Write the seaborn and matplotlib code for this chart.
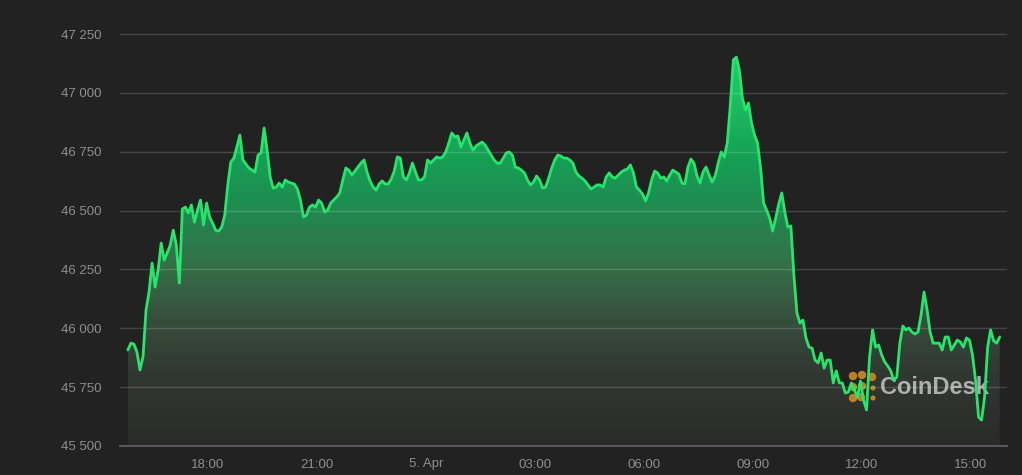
import numpy as np
import pandas as pd
import matplotlib
matplotlib.use("Agg")
import matplotlib.pyplot as plt
import matplotlib.dates as mdates
from matplotlib.colors import LinearSegmentedColormap
from matplotlib.patches import Ellipse
import seaborn as sns

# ---------------- data ----------------
start_time = "2022-04-04 15:48"
step = "5min"
prices = [
    45908, 45937, 45933, 45899, 45823, 45878, 46078, 46154, 46277, 46175,
    46248, 46362, 46290, 46320, 46354, 46417, 46354, 46192, 46507, 46515,
    46490, 46524, 46451, 46502, 46545, 46439, 46532, 46473, 46447, 46417,
    46413, 46430, 46481, 46609, 46706, 46723, 46770, 46821, 46715, 46698,
    46681, 46672, 46664, 46736, 46745, 46851, 46757, 46643, 46596, 46600,
    46617, 46600, 46630, 46621, 46617, 46613, 46592, 46545, 46473, 46481,
    46515, 46524, 46515, 46545, 46532, 46494, 46502, 46532, 46545, 46558,
    46575, 46630, 46681, 46672, 46651, 46668, 46685, 46702, 46715, 46664,
    46626, 46600, 46587, 46613, 46626, 46613, 46613, 46634, 46668, 46728,
    46723, 46643, 46630, 46660, 46702, 46664, 46630, 46630, 46643, 46715,
    46702, 46715, 46728, 46723, 46728, 46749, 46787, 46830, 46813, 46817,
    46770, 46800, 46830, 46787, 46757, 46774, 46783, 46791, 46779, 46757,
    46736, 46715, 46702, 46702, 46723, 46745, 46749, 46736, 46685, 46681,
    46672, 46660, 46630, 46609, 46621, 46647, 46630, 46596, 46600, 46638,
    46681, 46715, 46736, 46732, 46723, 46723, 46715, 46702, 46664, 46647,
    46638, 46626, 46609, 46592, 46600, 46609, 46609, 46600, 46643, 46660,
    46643, 46638, 46651, 46664, 46672, 46677, 46694, 46660, 46600, 46587,
    46570, 46541, 46575, 46630, 46668, 46660, 46638, 46643, 46626, 46651,
    46672, 46664, 46655, 46617, 46613, 46685, 46719, 46702, 46647, 46617,
    46664, 46685, 46651, 46621, 46647, 46702, 46749, 46728, 46787, 46948,
    47140, 47152, 47097, 46978, 46927, 46957, 46872, 46821, 46787, 46681,
    46532, 46502, 46468, 46413, 46468, 46528, 46575, 46494, 46430, 46435,
    46226, 46065, 46022, 46035, 45959, 45920, 45916, 45865, 45853, 45895,
    45831, 45865, 45865, 45768, 45819, 45768, 45768, 45725, 45729, 45768,
    45738, 45708, 45776, 45695, 45653, 45878, 45993, 45920, 45929, 45887,
    45857, 45840, 45819, 45780, 45793, 45937, 46010, 45993, 46001, 45984,
    45976, 45984, 46056, 46154, 46078, 45984, 45937, 45937, 45937, 45908,
    45963, 45963, 45908, 45929, 45950, 45942, 45920, 45959, 45950, 45887,
    45780, 45623, 45610, 45708, 45920, 45993, 45946, 45937, 45963,
]
y_ticks = [45500, 45750, 46000, 46250, 46500, 46750, 47000, 47250]
x_tick_times = ["2022-04-04 18:00", "2022-04-04 21:00", "2022-04-05 00:00",
                "2022-04-05 03:00", "2022-04-05 06:00", "2022-04-05 09:00",
                "2022-04-05 12:00", "2022-04-05 15:00"]
x_tick_labels = ["18:00", "21:00", "5. Apr", "03:00", "06:00", "09:00",
                 "12:00", "15:00"]
x_limits = ["2022-04-04 15:35", "2022-04-05 16:00"]
y_limits = [45500, 47331]

# ---------------- style ----------------
BG = "#222222"
LINE = "#27e56b"
TICK = "#8e8e8e"

sns.set_theme(style="dark")
plt.rcParams['font.family'] = ['Liberation Sans', 'DejaVu Sans']

times = pd.date_range(start_time, periods=len(prices), freq=step)
df = pd.DataFrame({"time": times, "price": prices})

fig = plt.figure(figsize=(10.22, 4.75), dpi=100, facecolor=BG)
ax = fig.add_axes([120 / 1022, 29 / 475, 887 / 1022, (446 - 15) / 475])
ax.set_facecolor(BG)

xnum = mdates.date2num(times)
xl = mdates.date2num(pd.to_datetime(x_limits))
ax.set_xlim(xl[0], xl[1])
ax.set_ylim(*y_limits)

# gradient area fill clipped to the area under the line
cmap = LinearSegmentedColormap.from_list(
    "g", [(0.0, "#2a2b2a"), (0.18, "#313832"), (0.32, "#38503e"),
          (0.45, "#347048"), (0.6, "#1f8c50"), (0.72, "#16a056"),
          (0.88, "#1ec063"), (1.0, "#22d06a")])
grad = np.linspace(0, 1, 256).reshape(-1, 1)
im = ax.imshow(grad, extent=[xnum[0], xnum[-1], y_limits[0], 47200],
               aspect="auto", origin="lower", cmap=cmap, zorder=1,
               interpolation="bicubic")
poly = ax.fill_between(xnum, prices, y_limits[0], facecolor="none",
                       edgecolor="none")
im.set_clip_path(poly.get_paths()[0], transform=ax.transData)
ax.set_xlim(xl[0], xl[1])
ax.set_ylim(*y_limits)

# watermark logo (behind the line)
ax.text(880 / 1022, 1 - 387 / 475, "CoinDesk", transform=fig.transFigure,
        ha="left", va="center", fontsize=17, fontweight="bold",
        color="#c4c4c4", alpha=0.85, zorder=2)
for (px, py, r) in [(853, 376, 3.5), (862, 375, 3.5), (872, 377, 3.5),
                    (853, 387, 3.5), (862, 386, 3.5), (853, 398, 3.5),
                    (861, 397, 3.5), (873, 388, 1.8), (873, 398, 1.8)]:
    ax.add_artist(Ellipse((px / 1022, 1 - py / 475), 2 * r / 1022, 2 * r / 475,
                          transform=fig.transFigure, color="#c98a22",
                          alpha=0.9, zorder=2))

sns.lineplot(data=df, x="time", y="price", color=LINE, linewidth=2,
             ax=ax, zorder=3)

ax.set_xlim(xl[0], xl[1])
ax.set_ylim(*y_limits)

# grid and ticks
ax.grid(False)
for v in y_ticks[1:]:
    ax.axhline(v, color="#ffffff", alpha=0.16, lw=1, zorder=2.5)
ax.set_yticks(y_ticks)
ax.set_yticklabels([f"{v:,}".replace(",", " ") for v in y_ticks])
ax.set_xticks(mdates.date2num(pd.to_datetime(x_tick_times)))
ax.set_xticklabels(x_tick_labels)
ax.tick_params(axis="y", length=0, pad=13, labelsize=9.5, labelcolor=TICK)
ax.tick_params(axis="x", length=0, pad=9, labelsize=9.5, labelcolor=TICK)
ax.set_xlabel("")
ax.set_ylabel("")
for s in ["top", "right", "left"]:
    ax.spines[s].set_visible(False)
ax.spines["bottom"].set_color("#5e5e5e")
ax.spines["bottom"].set_linewidth(1.3)

fig.savefig("out.png", dpi=100, facecolor=BG)
